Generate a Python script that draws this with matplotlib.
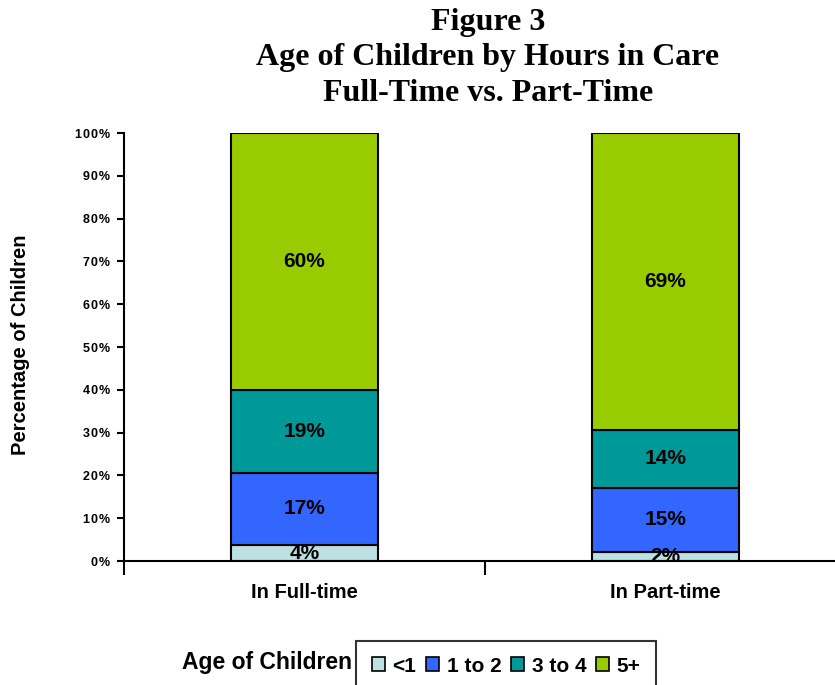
import matplotlib.pyplot as plt
from matplotlib.patches import Patch

categories = ['In Full-time', 'In Part-time']
age_groups = ['<1', '1 to 2', '3 to 4', '5+']
values = {
    '<1': [3.7, 2.1],
    '1 to 2': [16.9, 15.0],
    '3 to 4': [19.4, 13.6],
    '5+': [60.0, 69.3],
}
colors = ['#BDE1E1', '#3366FF', '#009999', '#99CC00']
yticks = list(range(0, 101, 10))

SANS = 'Liberation Sans'


def spaced(s):
    ' mimic the wide letter spacing of the original '
    return '\u200a'.join(s)


def main():
    fig = plt.figure(figsize=(8.35, 6.85), dpi=100)
    ax = fig.add_axes([124 / 835, 1 - 561 / 685, (846 - 124) / 835, 428 / 685])

    x = range(len(categories))
    bottoms = [0.0] * len(categories)
    for grp, col in zip(age_groups, colors):
        vals = values[grp]
        ax.bar(x, vals, width=0.405, bottom=bottoms, color=col,
               edgecolor='black', linewidth=1.5)
        for i, v in enumerate(vals):
            ax.text(i, bottoms[i] + v / 2, f'{round(v)}%', ha='center', va='center',
                    fontsize=15, fontweight='bold', family=SANS)
        bottoms = [b + v for b, v in zip(bottoms, vals)]

    ax.set_xlim(-0.5, 1.5)
    ax.set_ylim(0, 100)
    ax.set_yticks(yticks)
    ax.set_yticklabels([spaced(f'{t}%') for t in yticks], fontsize=9, fontweight='bold',
                       family=SANS)
    ax.set_xticks(list(x))
    ax.set_xticklabels(categories, fontsize=14.5, fontweight='bold', family=SANS)
    ax.tick_params(axis='x', length=0, pad=16)
    ax.set_xticks([-0.5, 0.5, 1.5], minor=True)
    ax.tick_params(axis='x', which='minor', length=10, width=1.5)
    ax.tick_params(axis='y', length=5, width=1.5, pad=5)
    for s in ['top', 'right']:
        ax.spines[s].set_visible(False)
    ax.spines['left'].set_linewidth(1.5)
    ax.spines['bottom'].set_linewidth(1.5)

    fig.text(21 / 835, 1 - 345 / 685, 'Percentage of Children', rotation=90,
             ha='center', va='center', fontsize=14.5, fontweight='bold', family=SANS)
    fig.text(488 / 835, 1 - 58 / 685,
             'Figure 3\nAge of Children by Hours in Care\nFull-Time vs. Part-Time',
             ha='center', va='center', fontsize=23, fontweight='bold',
             family='Liberation Serif', linespacing=1.3)

    fig.text(352 / 835, 1 - 663 / 685, 'Age of Children', ha='right', va='center',
             fontsize=16.5, fontweight='bold', family=SANS)
    handles = [Patch(facecolor=c, edgecolor='black', linewidth=1.2) for c in colors]
    leg = fig.legend(handles, age_groups, loc='upper left',
                     bbox_to_anchor=(356 / 835, 1 - 641 / 685), ncol=4,
                     frameon=True, fancybox=False, handlelength=0.65, handleheight=0.65,
                     handletextpad=0.35, columnspacing=0.45, borderpad=0.75,
                     borderaxespad=0,
                     prop={'family': SANS, 'weight': 'bold', 'size': 15})
    leg.get_frame().set_edgecolor('black')
    leg.get_frame().set_linewidth(1.5)

    fig.savefig('out.png', dpi=100)


if __name__ == '__main__':
    main()
